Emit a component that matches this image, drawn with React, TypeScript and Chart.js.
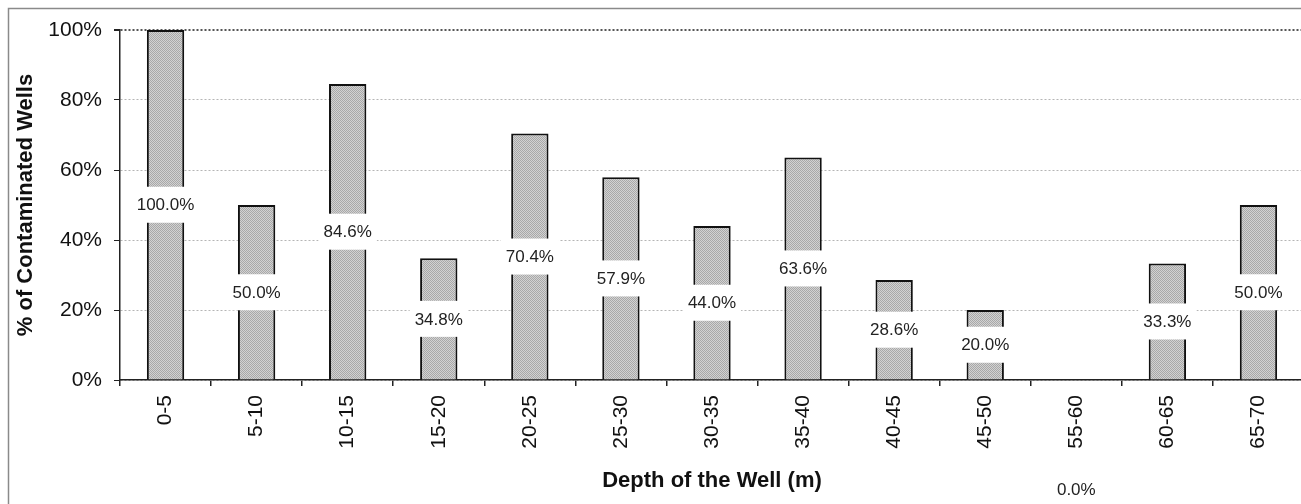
import React, { useEffect, useRef } from "react";
import { Chart, registerables } from "chart.js";

Chart.register(...registerables);

const depthRanges = ["0-5", "5-10", "10-15", "15-20", "20-25", "25-30", "30-35", "35-40", "40-45", "45-50", "55-60", "60-65", "65-70"];
const contaminatedPct = [100, 50, 84.6, 34.8, 70.4, 57.9, 44.0, 63.6, 28.6, 20.0, 0, 33.3, 50.0];
const yMin = 0;
const yMax = 100;
const yStep = 20;
const yTitle = "% of Contaminated Wells";
const xTitle = "Depth of the Well (m)";

const FONT = '"Liberation Sans", Arial, sans-serif';

function makePattern(): CanvasPattern | string {
  const c = document.createElement("canvas");
  c.width = 2;
  c.height = 2;
  const g = c.getContext("2d");
  if (!g) return "#bcbcbc";
  g.fillStyle = "#d2d2d2";
  g.fillRect(0, 0, 2, 2);
  g.fillStyle = "#a8a8a8";
  g.fillRect(0, 0, 1, 1);
  g.fillRect(1, 1, 1, 1);
  const p = g.createPattern(c, "repeat");
  return p || "#bcbcbc";
}

const framePlugin = {
  id: "frame",
  beforeDraw(chart: any) {
    const ctx = chart.ctx;
    ctx.save();
    ctx.fillStyle = "#ffffff";
    ctx.fillRect(0, 0, chart.width, chart.height);
    ctx.strokeStyle = "#8a8a8a";
    ctx.lineWidth = 1.5;
    ctx.strokeRect(8.5, 8.5, chart.width + 40, chart.height + 40);
    ctx.restore();
  },
};

const labelPlugin = {
  id: "valueLabels",
  afterDatasetsDraw(chart: any) {
    const ctx = chart.ctx;
    const meta = chart.getDatasetMeta(0);
    const data = chart.data.datasets[0].data as number[];
    ctx.save();
    ctx.font = "17px " + FONT;
    ctx.textAlign = "center";
    ctx.textBaseline = "middle";
    meta.data.forEach((bar: any, i: number) => {
      const v = data[i];
      const text = v.toFixed(1) + "%";
      let y = (bar.y + bar.base) / 2;
      if (v === 0) y = chart.chartArea.bottom + 109;
      const w = ctx.measureText(text).width + 10;
      const h = 36;
      ctx.fillStyle = "#ffffff";
      ctx.fillRect(bar.x - w / 2, y - h / 2, w, h);
      ctx.fillStyle = "#222222";
      ctx.fillText(text, bar.x, y + 1);
    });
    ctx.restore();
  },
};

export default function App() {
  const ref = useRef<HTMLCanvasElement | null>(null);

  useEffect(() => {
    document.body.style.margin = "0";
    if (!ref.current) return;
    const chart = new Chart(ref.current, {
      type: "bar",
      data: {
        labels: depthRanges,
        datasets: [
          {
            data: contaminatedPct,
            backgroundColor: makePattern() as any,
            borderColor: "#111111",
            borderWidth: 2,
            barPercentage: 0.41,
            categoryPercentage: 1,
          },
        ],
      },
      options: {
        responsive: true,
        maintainAspectRatio: false,
        animation: false,
        layout: { padding: { left: 10, top: 30, right: 0, bottom: 4 } },
        plugins: {
          legend: { display: false },
          tooltip: { enabled: false },
        },
        scales: {
          x: {
            offset: true,
            afterFit(scale: any) {
              scale.height = 120;
            },
            grid: {
              offset: true,
              drawOnChartArea: false,
              tickLength: 6,
              tickColor: "#222",
              lineWidth: 1.5,
            },
            border: { color: "#222", width: 1.5 },
            ticks: {
              autoSkip: false,
              maxRotation: 90,
              minRotation: 90,
              padding: 9,
              color: "#111",
              font: { family: FONT, size: 21 },
            },
            title: {
              display: true,
              text: xTitle,
              color: "#111",
              padding: { top: 0, bottom: 6 },
              font: { family: FONT, size: 22, weight: "bold" },
            },
          },
          y: {
            min: yMin,
            max: yMax,
            afterFit(scale: any) {
              scale.width = 110;
            },
            grid: {
              color: (c: any) => (c.tick && c.tick.value === yMax ? "#555" : "#b5b5b5"),
              lineWidth: (c: any) => (c.tick && c.tick.value === yMax ? 2 : 1),
              tickLength: 6,
              tickColor: "#222",
              tickBorderDash: [],
            },
            border: { color: "#222", width: 1.5, dash: [2, 2] },
            ticks: {
              stepSize: yStep,
              padding: 12,
              color: "#111",
              font: { family: FONT, size: 21 },
              callback: (v: any) => v + "%",
            },
            title: {
              display: true,
              text: yTitle,
              color: "#111",
              padding: { top: 3, bottom: 0 },
              font: { family: FONT, size: 22, weight: "bold" },
            },
          },
        },
      },
      plugins: [framePlugin, labelPlugin],
    });
    return () => chart.destroy();
  }, []);

  return (
    <div style={{ position: "fixed", left: 0, top: 0, width: 1301, height: 504, overflow: "hidden", background: "#fff" }}>
      <div style={{ position: "relative", width: 1304, height: 504 }}>
        <canvas ref={ref} />
      </div>
    </div>
  );
}
